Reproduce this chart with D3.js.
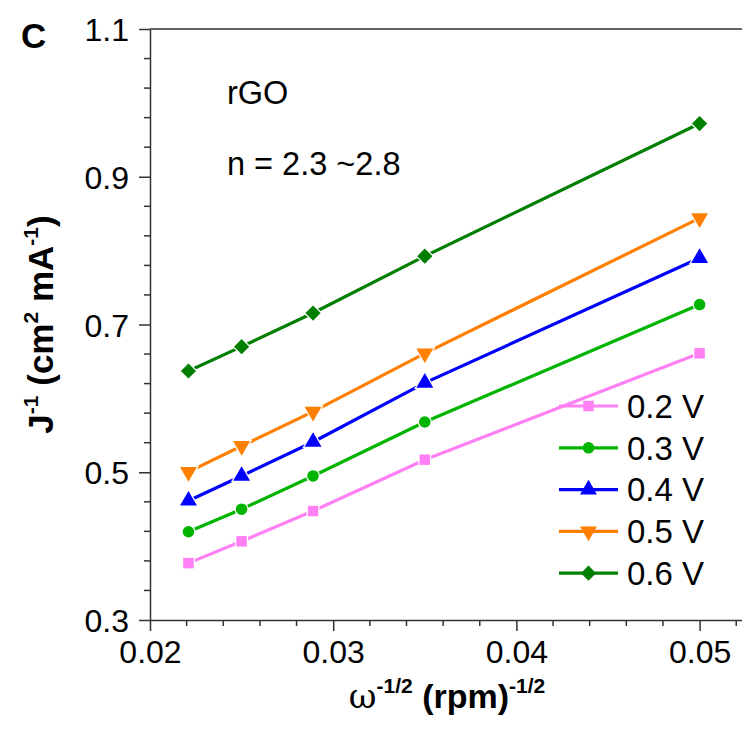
<!DOCTYPE html>
<html>
<head>
<meta charset="utf-8">
<script src="https://cdn.jsdelivr.net/npm/d3@7"></script>
<style>
  body { margin: 0; background: #fff; }
  text { font-family: "Liberation Sans", Arial, sans-serif; fill: #000; }
</style>
</head>
<body>
<svg id="chart" width="742" height="740"></svg>
<script>
// x = omega^-1/2 values (rpm^-1/2)
let xvals = [0.0221, 0.0250, 0.0289, 0.0350, 0.0500]

let series = ['0.2 V', '0.3 V', '0.4 V', '0.5 V', '0.6 V']
let v02 = [0.377, 0.4065, 0.4475, 0.517, 0.661]
let v03 = [0.4195, 0.450, 0.495, 0.568, 0.727]
let v04 = [0.4615, 0.495, 0.541, 0.621, 0.790]
let v05 = [0.5005, 0.5355, 0.582, 0.661, 0.844]
let v06 = [0.637, 0.670, 0.7155, 0.7925, 0.972]

let xTicks = [0.02, 0.03, 0.04, 0.05]
let yTicks = [0.3, 0.5, 0.7, 0.9, 1.1]

let colors = ['#ff80f4', '#00b400', '#0000ff', '#ff7f00', '#007f00']
let shapes = ['square', 'circle', 'triangle', 'triangleDown', 'diamond']

let allVals = [v02, v03, v04, v05, v06]

let svg = d3.select('#chart')

let x = d3.scaleLinear().domain([0.02, 0.0525]).range([150, 745.4])
let y = d3.scaleLinear().domain([0.3, 1.1]).range([620, 29])

let axisColor = '#333'

// top border
svg.append('line')
    .attr('x1', x(0.02)).attr('x2', 742)
    .attr('y1', y(1.1)).attr('y2', y(1.1))
    .style('stroke', axisColor).style('stroke-width', 1.5)

// x axis
let xAxis = svg.append('g').attr('transform', `translate(0,${y(0.3)})`)
    .call(d3.axisBottom(x).tickValues(xTicks).tickFormat(d3.format('.2f')).tickSize(11).tickSizeOuter(0))
xAxis.append('g').selectAll('line')
    .data(d3.range(0.022, 0.0525, 0.002).filter(d => Math.abs(d * 100 - Math.round(d * 100)) > 1e-6))
    .join('line')
    .attr('x1', d => x(d)).attr('x2', d => x(d))
    .attr('y1', 0).attr('y2', 6)
xAxis.selectAll('line').style('stroke', axisColor).style('stroke-width', 1.5)
xAxis.select('.domain').style('stroke', axisColor).style('stroke-width', 1.5)
xAxis.selectAll('.tick text')
    .attr('y', 20)
    .attr('dy', '0.71em')
    .style('font-size', '32px')
    .style('font-family', '"Liberation Sans", Arial, sans-serif')

// y axis
let yAxis = svg.append('g').attr('transform', `translate(${x(0.02)},0)`)
    .call(d3.axisLeft(y).tickValues(yTicks).tickFormat(d3.format('.1f')).tickSize(11).tickSizeOuter(0))
yAxis.append('g').selectAll('line')
    .data(d3.range(0.34, 1.1, 0.04).filter(d => Math.abs((d - 0.3) / 0.2 - Math.round((d - 0.3) / 0.2)) > 1e-6))
    .join('line')
    .attr('x1', 0).attr('x2', -6)
    .attr('y1', d => y(d)).attr('y2', d => y(d))
yAxis.selectAll('line').style('stroke', axisColor).style('stroke-width', 1.5)
yAxis.select('.domain').style('stroke', axisColor).style('stroke-width', 1.5)
yAxis.selectAll('.tick text')
    .attr('x', -21)
    .attr('dy', '0.36em')
    .style('font-size', '32px')
    .style('font-family', '"Liberation Sans", Arial, sans-serif')

function markerPath(shape) {
    if (shape == 'square') return d3.symbol(d3.symbolSquare, 110)()
    if (shape == 'circle') return d3.symbol(d3.symbolCircle, 105)()
    if (shape == 'triangle') return d3.symbol(d3.symbolTriangle, 125)()
    if (shape == 'triangleDown') return d3.symbol(d3.symbolTriangle, 125)()
    return d3.symbol(d3.symbolSquare, 115)()
}
function markerRot(shape) {
    if (shape == 'triangleDown') return 180
    if (shape == 'diamond') return 45
    return 0
}

let line = d3.line().x(d => x(d[0])).y(d => y(d[1]))

allVals.forEach((vals, i) => {
    let pts = xvals.map((xv, j) => [xv, vals[j]])
    let g = svg.append('g')
    g.append('path')
        .attr('d', line(pts))
        .style('fill', 'none')
        .style('stroke', colors[i])
        .style('stroke-width', 3.2)
    g.selectAll('path.marker').data(pts).join('path')
        .attr('class', 'marker')
        .attr('d', markerPath(shapes[i]))
        .attr('transform', d => `translate(${x(d[0])},${y(d[1])}) rotate(${markerRot(shapes[i])})`)
        .style('fill', colors[i])
        .style('stroke', '#fff')
        .style('stroke-width', 2.5)
        .style('paint-order', 'stroke')
})

// legend
let legend = svg.append('g').attr('transform', 'translate(559,406)')
series.forEach((s, i) => {
    let row = legend.append('g').attr('transform', `translate(0,${i * 41.8})`)
    row.append('line')
        .attr('x1', 0).attr('x2', 59).attr('y1', 0).attr('y2', 0)
        .style('stroke', colors[i]).style('stroke-width', 3.2)
    row.append('path')
        .attr('d', markerPath(shapes[i]))
        .attr('transform', `translate(29.5,0) rotate(${markerRot(shapes[i])})`)
        .style('fill', colors[i])
    row.append('text')
        .attr('x', 68).attr('y', 0).attr('dy', '0.36em')
        .style('font-size', '33px')
        .text(s)
})

// annotations
svg.append('text').attr('x', 227).attr('y', 104).style('font-size', '32.5px').text('rGO')
svg.append('text').attr('x', 227).attr('y', 175).style('font-size', '32.5px').text('n = 2.3 ~2.8')
svg.append('text').attr('x', 21).attr('y', 48).style('font-size', '35px').style('font-weight', 'bold').text('C')

// x title
let xt = svg.append('text')
    .attr('x', 447).attr('y', 708)
    .attr('text-anchor', 'middle')
    .style('font-size', '34px').style('font-weight', 'bold')
xt.append('tspan').style('font-weight', 'normal').style('font-family', '"DejaVu Serif", serif').text('ω')
xt.append('tspan').attr('dy', -15).style('font-size', '21px').text('-1/2')
xt.append('tspan').attr('dy', 15).text(' (rpm)')
xt.append('tspan').attr('dy', -15).style('font-size', '21px').text('-1/2')

// y title
let yt = svg.append('text')
    .attr('transform', `translate(53,${(y(0.3) + y(1.1)) / 2}) rotate(-90)`)
    .attr('text-anchor', 'middle')
    .style('font-size', '35px').style('font-weight', 'bold')
yt.append('tspan').text('J')
yt.append('tspan').attr('dy', -15).style('font-size', '21px').text('-1')
yt.append('tspan').attr('dy', 15).text(' (cm')
yt.append('tspan').attr('dy', -15).style('font-size', '21px').text('2')
yt.append('tspan').attr('dy', 15).text(' mA')
yt.append('tspan').attr('dy', -15).style('font-size', '21px').text('-1')
yt.append('tspan').attr('dy', 15).text(')')
</script>
</body>
</html>
